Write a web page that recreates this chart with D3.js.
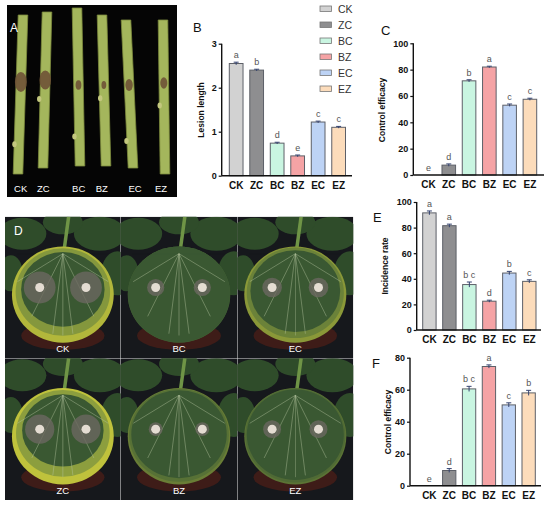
<!DOCTYPE html>
<html>
<head>
<meta charset="utf-8">
<script src="https://cdn.jsdelivr.net/npm/d3@7"></script>
<style>
  body { margin: 0; background: #fff; }
  svg { display: block; font-family: "Liberation Sans", Arial, sans-serif; }
</style>
</head>
<body>
<svg id="fig" width="550" height="506"></svg>
<script>
// ---- data ----
const groups = ["CK", "ZC", "BC", "BZ", "EC", "EZ"];
const colors = ["#d2d2d2", "#8e8e90", "#c9f5e1", "#f5a3a5", "#bdd3f5", "#fcdcbb"];

const lesionLength = [2.55, 2.40, 0.74, 0.45, 1.22, 1.10];
const lesionErr = [0.03, 0.02, 0.02, 0.02, 0.02, 0.02];
const lesionLetters = ["a", "b", "d", "e", "c", "c"];

const stemEfficacy = [0, 7.5, 71.5, 82, 53, 57.5];
const stemEffErr = [0, 0.9, 0.8, 0.6, 0.9, 0.8];
const stemEffLetters = ["e", "d", "b", "a", "c", "c"];

const incidence = [91.5, 81.5, 35.5, 22.5, 44.5, 38];
const incidenceErr = [1.5, 1.2, 2.0, 0.8, 1.3, 1.2];
const incidenceLetters = ["a", "a", "b c", "d", "b", "c"];

const leafEfficacy = [0, 9.5, 60.5, 74.5, 50.5, 58];
const leafEffErr = [0, 1.2, 1.6, 1.0, 1.3, 1.6];
const leafEffLetters = ["e", "d", "b c", "a", "c", "b"];

// photo panel D order (rows of three)
const leafOrder = ["CK", "BC", "EC", "ZC", "BZ", "EZ"];

const svg = d3.select("#fig");
svg.append("rect").attr("width", 550).attr("height", 506).attr("fill", "#fff");
const defs = svg.append("defs");

// ---------------------------------------------------------
// bar panels
// ---------------------------------------------------------
function barPanel(opt) {
  const g = svg.append("g");
  const x = d3.scaleBand()
    .domain(groups)
    .range([opt.barL, opt.barR])
    .paddingInner(0.33)
    .paddingOuter(0);
  const y = d3.scaleLinear()
    .domain([0, opt.max])
    .range([opt.y0, opt.yTop]);

  // bars
  g.selectAll("rect.bar")
    .data(opt.values)
    .enter()
    .append("rect")
    .attr("class", "bar")
    .attr("x", (d, i) => x(groups[i]))
    .attr("width", x.bandwidth())
    .attr("y", d => y(d))
    .attr("height", d => opt.y0 - y(d))
    .attr("fill", (d, i) => colors[i])
    .attr("stroke", "#5d6068")
    .attr("stroke-width", 1);

  // error bars
  const eb = g.selectAll("g.err")
    .data(opt.values.map((v, i) => ({ v, e: opt.err[i], k: groups[i] })))
    .enter()
    .append("g")
    .attr("class", "err")
    .attr("stroke", "#34426e")
    .attr("stroke-width", 1);
  eb.filter(d => d.e > 0).append("line")
    .attr("x1", d => x(d.k) + x.bandwidth() / 2)
    .attr("x2", d => x(d.k) + x.bandwidth() / 2)
    .attr("y1", d => y(d.v - d.e))
    .attr("y2", d => y(d.v + d.e));
  eb.filter(d => d.e > 0).append("line")
    .attr("x1", d => x(d.k) + x.bandwidth() / 2 - 2.5)
    .attr("x2", d => x(d.k) + x.bandwidth() / 2 + 2.5)
    .attr("y1", d => y(d.v + d.e))
    .attr("y2", d => y(d.v + d.e));

  // significance letters
  g.selectAll("text.sig")
    .data(opt.values)
    .enter()
    .append("text")
    .attr("class", "sig")
    .attr("x", (d, i) => x(groups[i]) + x.bandwidth() / 2)
    .attr("y", (d, i) => y(d + opt.err[i]) - 4)
    .attr("text-anchor", "middle")
    .attr("font-size", 9)
    .attr("fill", "#555")
    .text((d, i) => opt.letters[i]);

  // y axis
  const yAxis = g.append("g")
    .attr("transform", `translate(${opt.axisX},0)`)
    .call(d3.axisLeft(y).tickValues(opt.ticks).tickFormat(d3.format("d"))
      .tickSize(3).tickPadding(2).tickSizeOuter(0));
  yAxis.select(".domain").attr("stroke", "#111").attr("stroke-width", 1.4)
    .attr("d", `M0,${opt.yTop}V${opt.y0}`);
  yAxis.selectAll(".tick line").attr("stroke", "#111").attr("stroke-width", 1.2);
  yAxis.selectAll(".tick text")
    .attr("font-size", 9).attr("font-weight", "bold").attr("fill", "#111")
    .attr("font-family", "Liberation Sans, Arial, sans-serif");

  // x axis
  const xAxis = g.append("g")
    .attr("transform", `translate(0,${opt.y0})`)
    .call(d3.axisBottom(x).tickSize(0).tickPadding(6));
  xAxis.select(".domain").attr("stroke", "#111").attr("stroke-width", 1.4)
    .attr("d", `M${opt.axisX},0H${opt.axisR}`);
  xAxis.selectAll(".tick text")
    .attr("font-size", 10).attr("font-weight", "bold").attr("fill", "#111")
    .attr("font-family", "Liberation Sans, Arial, sans-serif");

  // axis title
  g.append("text")
    .attr("transform", `translate(${opt.titleX},${opt.titleY}) rotate(-90)`)
    .attr("text-anchor", "middle")
    .attr("font-size", 8.5)
    .attr("font-weight", "bold")
    .attr("fill", "#111")
    .text(opt.title);

  // panel letter
  g.append("text")
    .attr("x", opt.labelX).attr("y", opt.labelY)
    .attr("font-size", 13)
    .attr("fill", "#111")
    .text(opt.label);
}

barPanel({
  values: lesionLength, err: lesionErr, letters: lesionLetters,
  max: 3, ticks: [0, 1, 2, 3],
  axisX: 221.7, axisR: 352, barL: 229.3, barR: 345.5, y0: 175.7, yTop: 43.7,
  title: "Lesion length", titleX: 204, titleY: 110,
  label: "B", labelX: 193, labelY: 32
});

barPanel({
  values: stemEfficacy, err: stemEffErr, letters: stemEffLetters,
  max: 100, ticks: [0, 20, 40, 60, 80, 100],
  axisX: 413.3, axisR: 544, barL: 421.7, barR: 536.7, y0: 175, yTop: 43.3,
  title: "Control efficacy", titleX: 384.5, titleY: 110,
  label: "C", labelX: 381, labelY: 35
});

barPanel({
  values: incidence, err: incidenceErr, letters: incidenceLetters,
  max: 100, ticks: [0, 20, 40, 60, 80, 100],
  axisX: 416.7, axisR: 541, barL: 422.7, barR: 536, y0: 330, yTop: 202,
  title: "Incidence rate", titleX: 387.5, titleY: 266,
  label: "E", labelX: 373, labelY: 222
});

barPanel({
  values: leafEfficacy, err: leafEffErr, letters: leafEffLetters,
  max: 80, ticks: [0, 20, 40, 60, 80],
  axisX: 410, axisR: 541, barL: 422.7, barR: 535.3, y0: 485.7, yTop: 357.7,
  title: "Control efficacy", titleX: 391, titleY: 422,
  label: "F", labelX: 372, labelY: 368
});

// legend
const legend = svg.append("g");
legend.selectAll("rect")
  .data(groups)
  .enter()
  .append("rect")
  .attr("x", 320)
  .attr("y", (d, i) => 6 + i * 16)
  .attr("width", 11.5)
  .attr("height", 5.5)
  .attr("fill", (d, i) => colors[i])
  .attr("stroke", "#777")
  .attr("stroke-width", 0.8);
legend.selectAll("text")
  .data(groups)
  .enter()
  .append("text")
  .attr("x", 338)
  .attr("y", (d, i) => 12.5 + i * 16)
  .attr("font-size", 10.5)
  .attr("fill", "#333")
  .text(d => d);

// ---------------------------------------------------------
// panel A: stems photo (schematic)
// ---------------------------------------------------------
const pA = svg.append("g");
pA.append("rect").attr("x", 7).attr("y", 5).attr("width", 170).attr("height", 192).attr("fill", "#050505");

const stemTop = [[23, 15], [47, 12], [77, 8], [102, 15], [126, 20], [163, 20]];
const stemBot = [[18, 174], [43, 168], [80, 166], [106, 166], [133, 168], [165, 174]];
const lesionY = [82, 80, 85, 85, 85, 83];
const labelX = [20.7, 43.3, 78.7, 101.7, 135, 161];

groups.forEach((k, i) => {
  const [tx, ty] = stemTop[i], [bx, by] = stemBot[i];
  const w = 4.8;
  pA.append("path")
    .attr("d", `M${tx - w},${ty} L${tx + w},${ty} L${bx + w},${by} L${bx - w},${by} Z`)
    .attr("fill", "#a4b65c")
    .attr("stroke", "#7c8a3c")
    .attr("stroke-width", 0.8);
  // small nodes
  pA.append("ellipse")
    .attr("cx", tx + (bx - tx) * 0.75 - w)
    .attr("cy", ty + (by - ty) * 0.75 + (i % 2 ? -30 : 10))
    .attr("rx", 2.2).attr("ry", 3)
    .attr("fill", "#c3c77e");
  // lesion sized from lesion length
  const t = (lesionY[i] - ty) / (by - ty);
  const cx = tx + (bx - tx) * t;
  const rL = 2 + lesionLength[i] * 2.2;
  pA.append("ellipse")
    .attr("cx", cx).attr("cy", lesionY[i])
    .attr("rx", Math.min(rL * 0.8, 6)).attr("ry", rL * 1.3)
    .attr("fill", "#6f5236")
    .attr("opacity", 0.9);
  pA.append("text")
    .attr("x", labelX[i]).attr("y", 192)
    .attr("text-anchor", "middle")
    .attr("font-size", 9.5)
    .attr("fill", "#fff")
    .text(k);
});
pA.append("text").attr("x", 10).attr("y", 32).attr("font-size", 12).attr("fill", "#fff").text("A");

// ---------------------------------------------------------
// panel D: leaves photo (schematic)
// ---------------------------------------------------------
const pD = svg.append("g");
const colX = [5, 120.7, 237.3, 353.3];
const rowY = [216.7, 358.3, 500];
const yellowLeaf = { CK: 0.9, ZC: 1.0, EC: 0.6, BC: 0.05, BZ: 0.35, EZ: 0.25 };

leafOrder.forEach((k, j) => {
  const c = j % 3, r = Math.floor(j / 3);
  const x0 = colX[c], x1 = colX[c + 1], y0 = rowY[r], y1 = rowY[r + 1];
  const w = x1 - x0, h = y1 - y0;
  const idx = groups.indexOf(k);
  const clipId = "clip" + j;
  defs.append("clipPath").attr("id", clipId)
    .append("rect").attr("x", x0).attr("y", y0).attr("width", w).attr("height", h);
  const tile = pD.append("g").attr("clip-path", `url(#${clipId})`);
  tile.append("rect").attr("x", x0).attr("y", y0).attr("width", w).attr("height", h).attr("fill", "#16181c");

  // background foliage
  [[0.15, 0.12, 24, 16], [0.82, 0.12, 26, 17], [0.5, 0.04, 20, 12], [0.97, 0.4, 16, 22], [0.05, 0.4, 12, 18]].forEach(p => {
    tile.append("ellipse")
      .attr("cx", x0 + w * p[0]).attr("cy", y0 + h * p[1])
      .attr("rx", p[2]).attr("ry", p[3])
      .attr("fill", "#2f4c2a");
  });
  // petiole
  tile.append("line")
    .attr("x1", x0 + w * 0.55).attr("y1", y0)
    .attr("x2", x0 + w * 0.5).attr("y2", y0 + h * 0.3)
    .attr("stroke", "#6f9446").attr("stroke-width", 3.5);

  // pot
  tile.append("ellipse")
    .attr("cx", x0 + w * 0.5).attr("cy", y0 + h * 0.84)
    .attr("rx", w * 0.36).attr("ry", h * 0.1)
    .attr("fill", "#3e1c18");

  // main leaf: yellow margin underneath, green blade on top
  const yl = yellowLeaf[k];
  const lcx = x0 + w * 0.5, lcy = y0 + h * 0.55;
  const rx = w * 0.44, ry = h * 0.34;
  tile.append("ellipse")
    .attr("cx", lcx).attr("cy", lcy)
    .attr("rx", rx).attr("ry", ry)
    .attr("fill", d3.interpolateRgb("#3a5832", "#bfc23c")(yl));
  tile.append("ellipse")
    .attr("cx", lcx).attr("cy", lcy - ry * 0.06 * yl)
    .attr("rx", rx * (1 - 0.08 * yl)).attr("ry", ry * (1 - 0.1 * yl))
    .attr("fill", d3.interpolateRgb("#3a5832", "#8c9e3e")(yl));
  tile.append("ellipse")
    .attr("cx", lcx).attr("cy", lcy - ry * 0.12 * yl)
    .attr("rx", rx * (1 - 0.2 * yl)).attr("ry", ry * (1 - 0.25 * yl))
    .attr("fill", "#3a5832");
  // veins radiating from petiole junction
  const jx = lcx, jy = lcy - ry * 0.85;
  [-70, -40, -12, 12, 40, 70, 0].forEach(a => {
    const rad = a * Math.PI / 180;
    tile.append("line")
      .attr("x1", jx).attr("y1", jy)
      .attr("x2", jx + Math.sin(rad) * rx * 0.95)
      .attr("y2", jy + Math.cos(rad) * ry * 1.7)
      .attr("stroke", "#b9c7a2").attr("stroke-width", 0.6).attr("opacity", 0.7);
  });
  // two inoculation spots, halo sized from incidence
  const halo = 4 + incidence[idx] * 0.13;
  [-0.2, 0.2].forEach(dx => {
    const sx = lcx + w * dx, sy = lcy - h * 0.05;
    tile.append("circle").attr("cx", sx).attr("cy", sy).attr("r", halo)
      .attr("fill", "#6c6860").attr("opacity", 0.8);
    tile.append("circle").attr("cx", sx).attr("cy", sy).attr("r", 4.5)
      .attr("fill", "#e4dcd2");
  });

  tile.append("text")
    .attr("x", x0 + w * 0.5).attr("y", y1 - 6)
    .attr("text-anchor", "middle")
    .attr("font-size", 9.5)
    .attr("fill", "#fff")
    .text(k);
});
pD.append("text").attr("x", 14).attr("y", 235).attr("font-size", 12).attr("fill", "#fff").text("D");
</script>
</body>
</html>
